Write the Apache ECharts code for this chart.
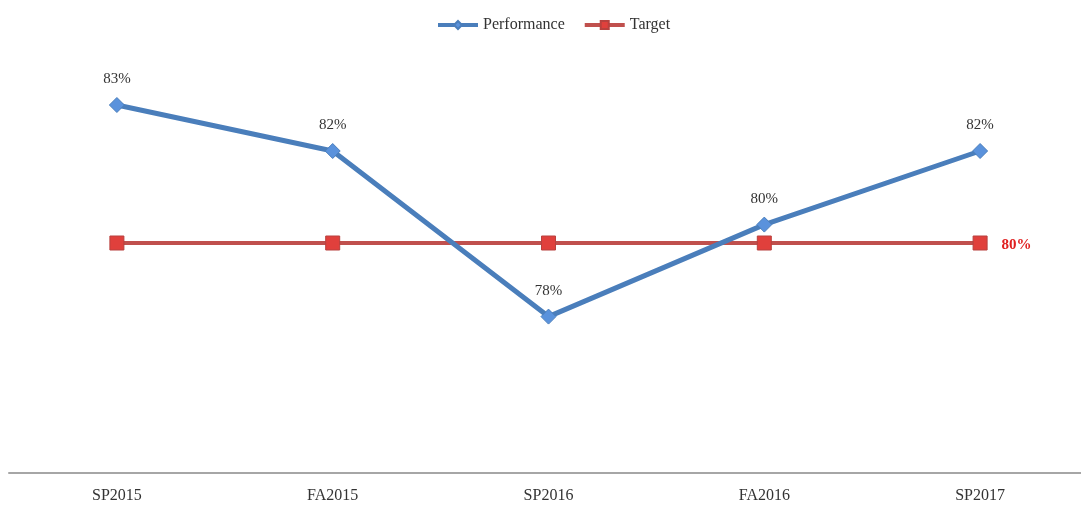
<!DOCTYPE html>
<html>
<head>
<meta charset="utf-8">
<style>
  html, body { margin: 0; padding: 0; background: #fff; overflow: hidden; }
  #chart { width: 1090px; height: 506px; }
</style>
<script src="https://cdn.jsdelivr.net/npm/echarts@6/dist/echarts.min.js"></script>
</head>
<body>
<div id="chart"></div>
<script>
// Term-by-term performance against the 80% target
const terms = ['SP2015', 'FA2015', 'SP2016', 'FA2016', 'SP2017'];
const performance = [83.0, 82.0, 78.4, 80.4, 82.0];
const target = [80, 80, 80, 80, 80];

const FONT = '"Liberation Serif", "Times New Roman", serif';
const BLUE = '#4a7ebb';
const RED = '#c0504d';

const chart = echarts.init(document.getElementById('chart'));
chart.setOption({
  animation: false,
  textStyle: { fontFamily: FONT },
  legend: {
    top: 12,
    left: 431,
    itemGap: 18,
    itemWidth: 40,
    itemHeight: 10,
    lineStyle: { width: 4 },
    textStyle: { fontFamily: FONT, fontSize: 16, color: '#333' },
    data: ['Performance', 'Target']
  },
  grid: { left: 9, top: 13, right: 2, bottom: 33, containLabel: false },
  xAxis: {
    type: 'category',
    data: terms,
    boundaryGap: true,
    axisLine: { lineStyle: { color: '#a6a6a6', width: 2 } },
    axisTick: { show: false },
    axisLabel: { fontFamily: FONT, fontSize: 16, color: '#333', margin: 15 }
  },
  yAxis: {
    type: 'value',
    min: 75,
    max: 85,
    show: false,
    splitLine: { show: false }
  },
  series: [
    {
      name: 'Target',
      type: 'line',
      data: target.map((v, i) => i === target.length - 1
        ? { value: v, label: { show: true } }
        : v),
      symbol: 'rect',
      symbolSize: 14,
      z: 2,
      lineStyle: { color: RED, width: 4 },
      itemStyle: { color: '#e0403c', borderColor: '#b8413e', borderWidth: 1 },
      label: {
        show: false,
        position: 'right',
        distance: 14,
        offset: [0, 2],
        formatter: p => Math.round(p.value) + '%',
        fontFamily: FONT,
        fontSize: 15,
        fontWeight: 'bold',
        color: '#e02020'
      }
    },
    {
      name: 'Performance',
      type: 'line',
      data: performance,
      symbol: 'diamond',
      symbolSize: 15,
      z: 3,
      lineStyle: { color: BLUE, width: 5 },
      itemStyle: { color: '#5a92dc', borderColor: BLUE, borderWidth: 1 },
      label: {
        show: true,
        position: 'top',
        distance: 10,
        formatter: p => Math.round(p.value) + '%',
        fontFamily: FONT,
        fontSize: 15,
        color: '#333'
      }
    }
  ]
});
</script>
</body>
</html>
